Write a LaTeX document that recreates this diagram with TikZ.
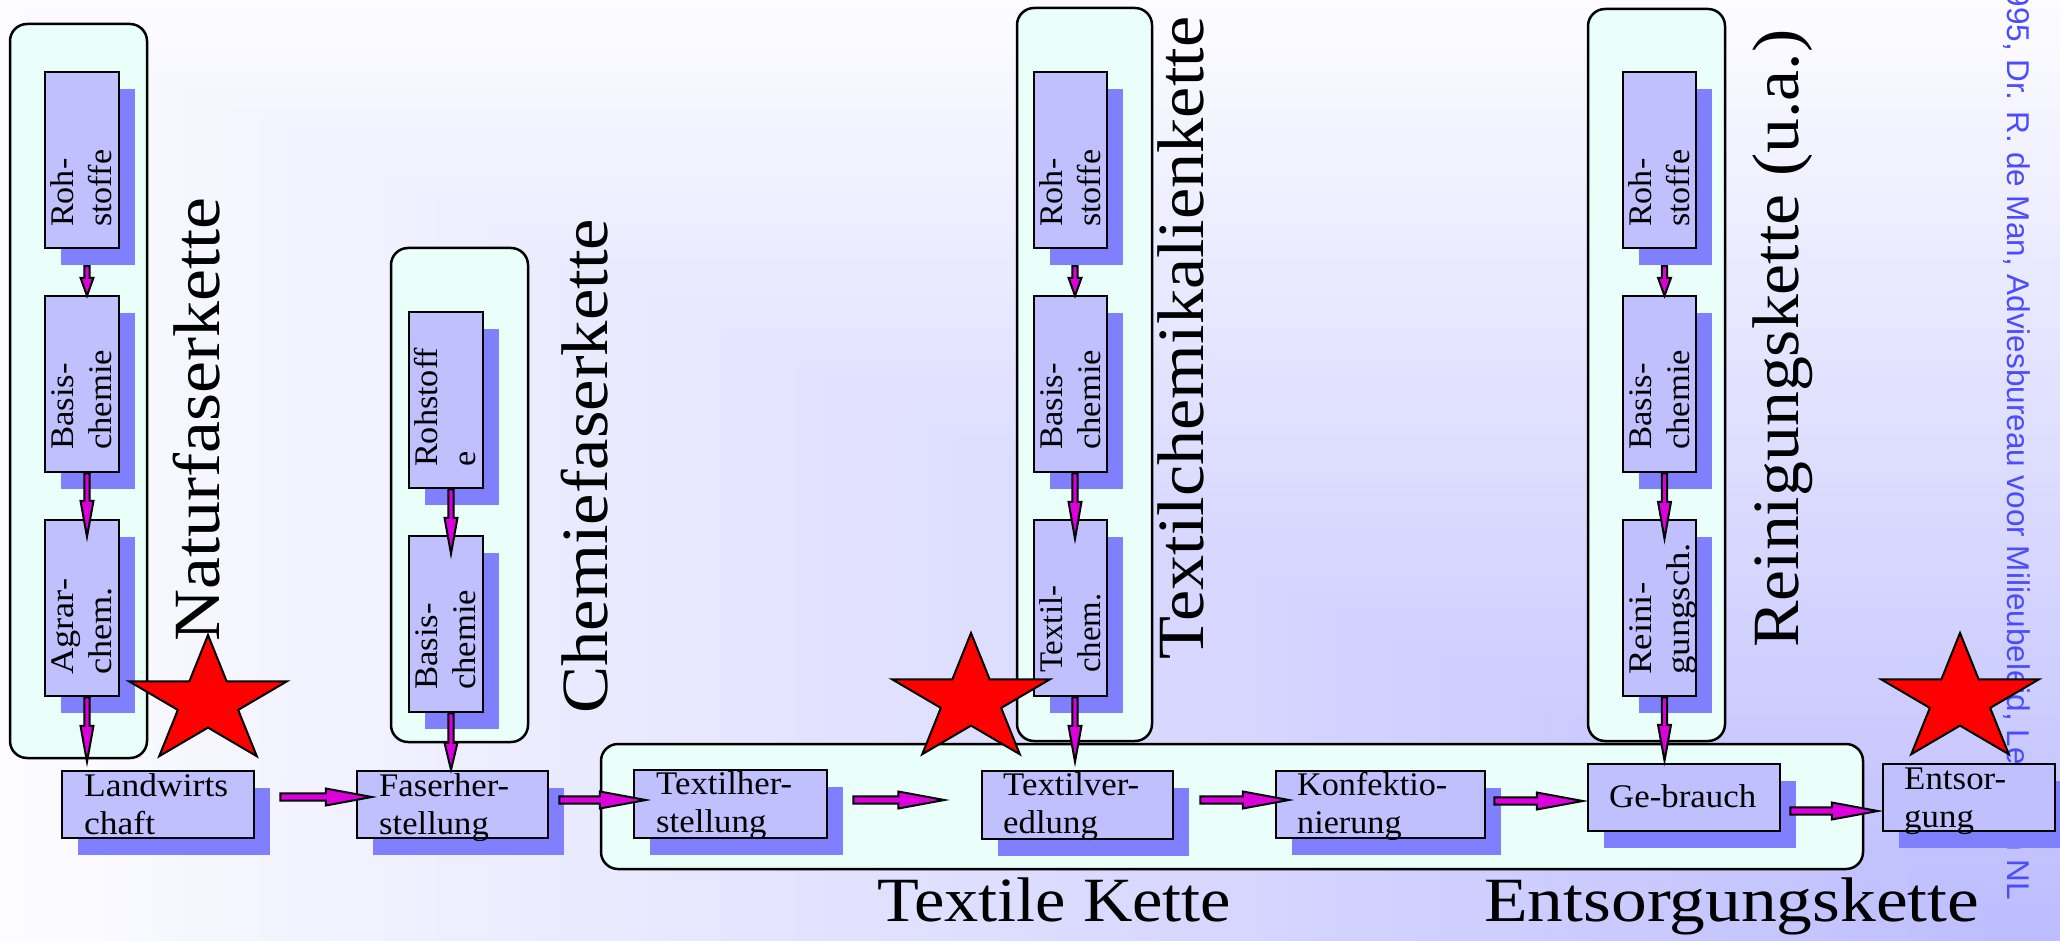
\documentclass[tikz,border=0pt]{standalone}
\usepackage{fontspec}
\setmainfont{Liberation Serif}
\newfontfamily\credfont{Liberation Sans}
\usepackage{graphicx}
\usetikzlibrary{calc,shadows}
\definecolor{boxc}{RGB}{192,192,255}
\definecolor{shadowc}{RGB}{128,128,255}
\definecolor{groupc}{RGB}{234,255,250}
\definecolor{arrowc}{RGB}{220,0,220}
\definecolor{bgfar}{RGB}{252,252,255}
\definecolor{bgnear}{RGB}{188,188,255}
\definecolor{credc}{RGB}{75,75,255}
\tikzset{
 groupbox/.style={draw=black, line width=2.5pt, fill=groupc, rounded corners=17pt, inner sep=0pt},
 sbox/.style={draw=black, line width=2.5pt, fill=boxc, inner sep=0pt,
   drop shadow={shadow xshift=16pt, shadow yshift=-17pt, opacity=1, fill=shadowc}},
 barrow/.style={draw=black, line width=2pt, fill=arrowc, line join=miter},
 star5/.style={draw=black, line width=2pt, fill=red, line join=miter},
 lab/.style={inner sep=0pt, font=\fontsize{33}{38}\selectfont},
 biglab/.style={inner sep=0pt, font=\fontsize{66}{70}\selectfont},
 credlab/.style={inner sep=0pt, text=credc, font=\credfont\fontsize{31.5}{34}\selectfont},
}
\newcommand\sbx[5]{\node[sbox, minimum width={#4-#2}, minimum height={#5-#3}] (#1) at ({(#2+#4)/2},{(#3+#5)/2}) {};}
\newcommand\grp[5]{\node[groupbox, minimum width={#4-#2}, minimum height={#5-#3}] (#1) at ({(#2+#4)/2},{(#3+#5)/2}) {};}
\newcommand\hlab[6]{\node[lab, anchor=base west] (#1#2) at (#3,#4) {\resizebox{#5pt}{\height}{\begin{tabular}[t]{@{}l@{}}#6\end{tabular}}};}
\newcommand\vlab[6]{\node[lab, rotate=90, anchor=base west] (#1#2) at (#3,#4) {\resizebox{#5pt}{\height}{\begin{tabular}[t]{@{}l@{}}#6\end{tabular}}};}
\def\vsw{2.6pt}\def\vhw{6.5pt}
\newcommand\varr[3]{\draw[barrow] let \p1=#1, \p2=#2 in (\x1-\vsw,\y1) -- (\x1-\vsw,\y2+#3pt) -- (\x1-\vhw,\y2+#3pt) -- (\x1,\y2) -- (\x1+\vhw,\y2+#3pt) -- (\x1+\vsw,\y2+#3pt) -- (\x1+\vsw,\y1) -- cycle;}
\def\hsw{3.6pt}\def\hhw{8.5pt}\def\hhl{46pt}
\newcommand\harr[2]{\draw[barrow] let \p1=#1, \p2=#2 in (\x1,\y1+\hsw) -- (\x2-\hhl,\y1+\hsw) -- (\x2-\hhl,\y1+\hhw) -- (\x2,\y1) -- (\x2-\hhl,\y1-\hhw) -- (\x2-\hhl,\y1-\hsw) -- (\x1,\y1-\hsw) -- cycle;}
\newcommand\starat[2]{\draw[star5] plot[samples at={0,...,9}, variable=\k] ({#1+ifthenelse(mod(\k,2)==0,83,31.7)*cos(90+36*\k)},{#2-ifthenelse(mod(\k,2)==0,67,25.6)*sin(90+36*\k)}) -- cycle;}
\begin{document}
\begin{tikzpicture}[x=1pt,y=-1pt]
\useasboundingbox (0,0) rectangle (2060,941);
\clip (0,0) rectangle (2060,941);
% background: rectangular gradient from the bottom-right corner
\foreach \i in {0,...,79}{
  \pgfmathsetmacro\pp{1.25*\i}
  \pgfmathsetmacro\bx{25.75*\i}
  \pgfmathsetmacro\by{11.7625*\i}
  \fill[bgnear!\pp!bgfar] (\bx,\by) rectangle (2061,942);
}
% credit
\node[credlab, rotate=-90, anchor=base east] (cred) at (2007,900) {1995, Dr. R. de Man, Adviesbureau voor Milieubeleid, Leusden NL};
% groups
\grp{g1}{10}{24}{147}{758}
\grp{g2}{391}{248}{528}{742}
\grp{g3}{1017}{8}{1152}{741}
\grp{g4}{1588}{9}{1725}{741}
\grp{g5}{601}{744}{1863}{869}
% boxes
\sbx{n1r}{45}{72}{119}{248} \sbx{n1b}{45}{296}{119}{472} \sbx{n1a}{45}{520}{119}{696}
\sbx{n2r}{409}{312}{483}{488} \sbx{n2b}{409}{536}{483}{712}
\sbx{n3r}{1034}{72}{1107}{248} \sbx{n3b}{1034}{296}{1107}{472} \sbx{n3t}{1034}{520}{1107}{696}
\sbx{n4r}{1623}{72}{1696}{248} \sbx{n4b}{1623}{296}{1696}{472} \sbx{n4g}{1623}{520}{1696}{696}
\sbx{lw}{62}{771}{254}{838} \sbx{fh}{357}{771}{548}{838} \sbx{th}{634}{770}{827}{838}
\sbx{tv}{982}{771}{1173}{839} \sbx{kf}{1276}{771}{1485}{838} \sbx{gb}{1588}{764}{1780}{831}
\sbx{es}{1883}{764}{2055}{831}
% labels
\hlab{txt}{lw}{84}{796}{144}{Landwirts\\chaft}
\hlab{txt}{fh}{379}{796}{130}{Faserher-\\stellung}
\hlab{txt}{th}{656}{794}{136}{Textilher-\\stellung}
\hlab{txt}{tv}{1003}{795}{136}{Textilver-\\edlung}
\hlab{txt}{kf}{1297}{795}{150}{Konfektio-\\nierung}
\hlab{txt}{gb}{1609}{807}{147}{Ge-brauch}
\hlab{txt}{es}{1904}{789}{102}{Entsor-\\gung}
\vlab{txt}{r1}{73}{227}{77}{Roh-\\stoffe}
\vlab{txt}{b1}{73}{450}{100}{Basis-\\chemie}
\vlab{txt}{a1}{73}{675}{96}{Agrar-\\chem.}
\vlab{txt}{r2}{437}{467}{119}{Rohstoff\\e}
\vlab{txt}{b2}{437}{690}{100}{Basis-\\chemie}
\vlab{txt}{r3}{1062}{227}{77}{Roh-\\stoffe}
\vlab{txt}{b3}{1062}{450}{100}{Basis-\\chemie}
\vlab{txt}{t3}{1062}{673}{87}{Textil-\\chem.}
\vlab{txt}{r4}{1651}{227}{77}{Roh-\\stoffe}
\vlab{txt}{b4}{1651}{450}{100}{Basis-\\chemie}
\vlab{txt}{g4}{1651}{675}{132}{Reini-\\gungsch.}
% vertical arrows
\varr{($(n1r.south)+(5,17)$)}{($(n1b.north)+(5,1)$)}{18}
\varr{($(n1b.south)+(5,0)$)}{($(n1a.north)+(5,18)$)}{36}
\varr{($(n1a.south)+(5,0)$)}{($(lw.north)+(0,-8)$)}{36}
\varr{($(n2r.south)+(5,0)$)}{($(n2b.north)+(0,19)$)}{36}
\varr{($(n2b.south)+(5,0)$)}{($(fh.north)+(0,0)$)}{27}
\varr{($(n3r.south)+(4.5,17)$)}{($(n3b.north)+(0,1)$)}{18}
\varr{($(n3b.south)+(4.5,0)$)}{($(n3t.north)+(0,20)$)}{37}
\varr{($(n3t.south)+(4.5,0)$)}{($(tv.north)+(0,-8)$)}{36}
\varr{($(n4r.south)+(5,17)$)}{($(n4b.north)+(0,1)$)}{18}
\varr{($(n4b.south)+(5,0)$)}{($(n4g.north)+(0,20)$)}{37}
\varr{($(n4g.south)+(5,0)$)}{($(gb.north)+(0,-2)$)}{36}
% horizontal arrows
\coordinate (free) at ($(th.east)+(116,0)$);
\harr{($(lw.east)+(25,-7.5)$)}{($(fh.west)+(16,0)$)}
\harr{($(fh.east)+(10,-4.5)$)}{($(th.west)+(13,0)$)}
\harr{($(th.east)+(25,-4)$)}{(free)}
\harr{($(tv.east)+(26,-5)$)}{($(kf.west)+(14,0)$)}
\harr{($(kf.east)+(8,-3.5)$)}{($(gb.west)+(-4,0)$)}
\harr{($(gb.east)+(9,13.5)$)}{($(es.west)+(-4,0)$)}
% stars
\starat{208}{702}
\starat{971}{700}
\starat{1960}{700}
% big labels
\node[biglab, rotate=90, anchor=base west] (lnat) at (219,642) {\resizebox{444pt}{\height}{Naturfaserkette}};
\node[biglab, rotate=90, anchor=base west] (lchem) at (607,714) {\resizebox{495pt}{\height}{Chemiefaserkette}};
\node[biglab, rotate=90, anchor=base west] (ltc) at (1203,660) {\resizebox{643pt}{\height}{Textilchemikalienkette}};
\node[biglab, rotate=90, anchor=base west] (lrein) at (1798,648) {\resizebox{618pt}{\height}{Reinigungskette (u.a.)}};
\node[biglab, font=\fontsize{63}{68}\selectfont, anchor=base west] (ltk) at (877,921) {\resizebox{354pt}{\height}{Textile Kette}};
\node[biglab, font=\fontsize{63}{68}\selectfont, anchor=base west] (lent) at (1484,921) {\resizebox{495pt}{\height}{Entsorgungskette}};
\end{tikzpicture}
\end{document}
